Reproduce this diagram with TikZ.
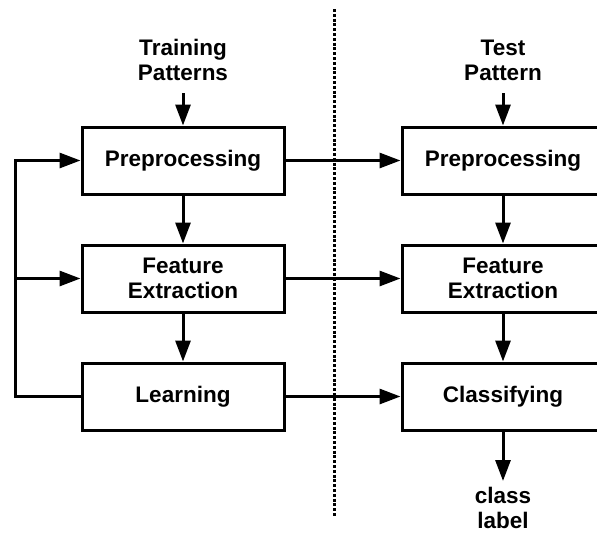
\documentclass[tikz,border=0pt]{standalone}
\usepackage{fontspec}
\setmainfont{Liberation Sans}
\usetikzlibrary{arrows.meta}
\begin{document}
\begin{tikzpicture}[x=1pt,y=-1pt,
  line width=3pt,
  stage/.style={draw, fill=white, minimum width=202pt, minimum height=67pt,
    inner sep=0pt, align=center, font=\fontsize{22.5}{25}\selectfont\bfseries},
  caption/.style={align=center, inner sep=0pt, font=\fontsize{22.5}{25}\selectfont\bfseries},
  flow/.style={-{Triangle[length=21pt,width=15pt]}}]
\useasboundingbox (0,0) rectangle (597,533);
\clip (0,0) rectangle (597,533);

% separator between training and testing
\draw[line width=3pt, dash pattern=on 3pt off 1.8pt] (334,9) -- (334,516);

% training branch
\node[caption] (train) at (183,60) {Training\\Patterns};
\node[stage] (pre1) at (183,160.5) {Preprocessing};
\node[stage] (fe1) at (183,278.5) {Feature\\Extraction};
\node[stage] (learn) at (183,396.5) {Learning};

% testing branch
\node[caption] (test) at (503,60) {Test\\Pattern};
\node[stage] (pre2) at (503,160.5) {Preprocessing};
\node[stage] (fe2) at (503,278.5) {Feature\\Extraction};
\node[stage] (cls) at (503,396.5) {Classifying};
\node[caption] (out) at (503,508) {class\\label};

\coordinate (trainin) at (183,93);
\coordinate (testin) at (503,93);
\coordinate (clsout) at (503,481);
\coordinate (fbcorner) at (15,396.5);
\coordinate (fbtop) at (15,160.5);
\coordinate (fbmid) at (15,278.5);

% inputs and output
\draw[flow] (trainin) -- (pre1.north);
\draw[flow] (testin) -- (pre2.north);
\draw[flow] (cls.south) -- (clsout);

% vertical flow
\draw[flow] (pre1.south) -- (fe1.north);
\draw[flow] (fe1.south) -- (learn.north);
\draw[flow] (pre2.south) -- (fe2.north);
\draw[flow] (fe2.south) -- (cls.north);

% training to testing
\draw[flow] (pre1.east) -- (pre2.west);
\draw[flow] (fe1.east) -- (fe2.west);
\draw[flow] (learn.east) -- (cls.west);

% feedback from learning
\draw[flow] (learn.west) -- (fbcorner) -- (fbtop) -- (pre1.west);
\draw[flow] (fbmid) -- (fe1.west);
\end{tikzpicture}
\end{document}
